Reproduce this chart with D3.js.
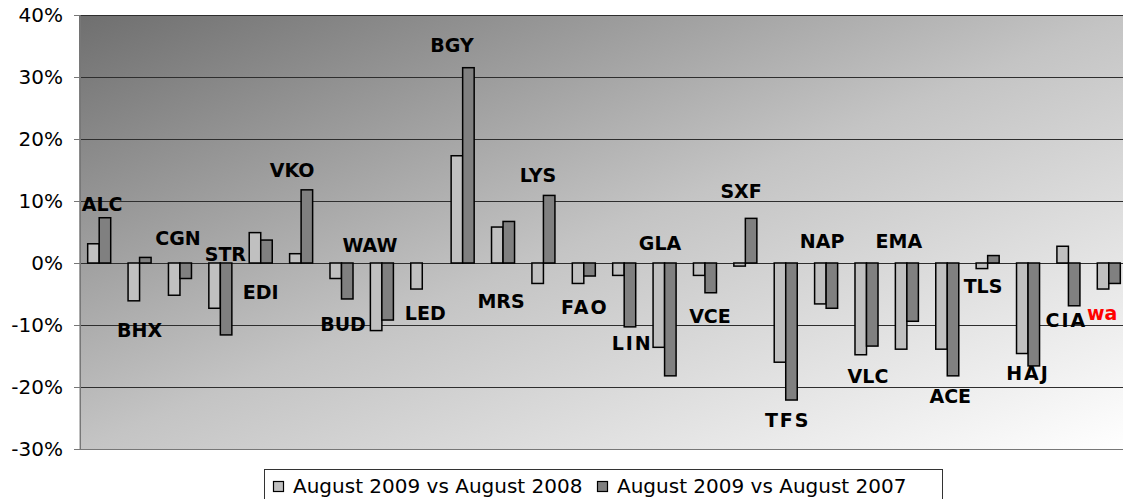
<!DOCTYPE html>
<html>
<head>
<meta charset="utf-8">
<script src="https://cdn.jsdelivr.net/npm/d3@7"></script>
<style>
body { margin: 0; background: #fff; overflow: hidden; }
text { font-family: "DejaVu Sans", Verdana, sans-serif; }
.tick text { font-size: 20px; fill: #000; }
.code { font-size: 19px; font-weight: bold; fill: #000; }
.legendText { font-size: 20px; fill: #000; }
</style>
</head>
<body>
<script>

var airports = ['ALC', 'BHX', 'CGN', 'STR', 'EDI', 'VKO', 'BUD', 'WAW', 'LED', 'BGY', 'MRS', 'LYS', 'FAO',
	'LIN', 'GLA', 'VCE', 'SXF', 'TFS', 'NAP', 'VLC', 'EMA', 'ACE', 'TLS', 'HAJ', 'CIA', 'wa'];
var vs2008 = [3.1, -6.1, -5.2, -7.3, 4.9, 1.5, -2.5, -10.9, -4.2, 17.3, 5.8, -3.3, -3.3,
	-2.0, -13.6, -2.0, -0.5, -16.0, -6.6, -14.8, -13.9, -13.9, -0.9, -14.6, 2.7, -4.2];
var vs2007 = [7.3, 0.9, -2.5, -11.6, 3.7, 11.8, -5.8, -9.2, null, 31.5, 6.7, 10.9, -2.1,
	-10.3, -18.2, -4.8, 7.2, -22.1, -7.3, -13.4, -9.4, -18.2, 1.2, -16.6, -6.9, -3.3];
var yTicks = [-30, -20, -10, 0, 10, 20, 30, 40];
var seriesNames = ['August 2009 vs August 2008', 'August 2009 vs August 2007'];

// where each code label sits: [pixels from group centre, value on the % axis]
var labelAt = [[3, 8.4], [0, -11.9], [-2, 2.9], [5, 0.3], [0, -5.8], [-9, 13.9], [1.5, -11.0], [-12, 1.8],
	[3, -9.2], [-10.6, 34.0], [-2, -7.3], [-5.4, 13.1], [1, -8.2], [8, -14.0], [-4.5, 2.1], [5, -9.7],
	[-4.3, 10.5], [2, -26.5], [-4, 2.4], [1.5, -19.4], [-8, 2.4], [3, -22.6], [-4.6, -4.8], [0, -18.9],
	[-2, -10.3], [-6.7, -9.2]];
var spaced = ['FAO', 'LIN', 'TFS', 'HAJ', 'CIA'];					//labels drawn with wider letters

var w = 1123,
	h = 499,
	plotL = 79,
	plotR = 1129,												//plot runs past the window edge
	plotT = 15,
	plotB = 449;

var svg = d3.select("body").append("svg")
	.attr("width", w)
	.attr("height", h);

var grad = svg.append("defs").append("linearGradient")			//dark top-left to white bottom-right
	.attr("id", "bg")
	.attr("x1", 0).attr("y1", 0).attr("x2", 1).attr("y2", 1);
grad.append("stop").attr("offset", "0%").attr("stop-color", "#6f6f6f");
grad.append("stop").attr("offset", "50%").attr("stop-color", "#c4c4c4");
grad.append("stop").attr("offset", "100%").attr("stop-color", "#ffffff");

var x = d3.scaleBand()
	.domain(airports)
	.range([plotL, plotR])
	.paddingInner(0.43)
	.paddingOuter(0.215);

var x1 = d3.scaleBand()
	.domain([0, 1])
	.range([0, x.bandwidth()]);

var y = d3.scaleLinear()
	.domain([-30, 40])
	.range([plotB, plotT]);

svg.append("rect")												//plot background
	.attr("x", plotL)
	.attr("y", plotT)
	.attr("width", plotR - plotL)
	.attr("height", plotB - plotT)
	.attr("fill", "url(#bg)");

svg.selectAll("line.grid")
		.data(yTicks.filter(function(d){ return d > -30; }))
	.enter().append("line")
		.attr("class", "grid")
		.attr("x1", plotL)
		.attr("x2", plotR)
		.attr("y1", function(d){ return y(d) + 0.5; })
		.attr("y2", function(d){ return y(d) + 0.5; })
		.attr("stroke", "#2e2e2e")
		.attr("stroke-width", 1);

svg.append("line")												//bottom edge of plot
	.attr("x1", plotL).attr("x2", plotR)
	.attr("y1", plotB + 0.5).attr("y2", plotB + 0.5)
	.attr("stroke", "#777");

var yAxis = svg.append("g")
	.attr("transform", "translate(" + (plotL + 1) + ",0)")
	.call(d3.axisLeft(y).tickValues(yTicks).tickSize(6).tickPadding(11)
		.tickFormat(function(d){ return d + "%"; }));
yAxis.select(".domain").attr("stroke", "#777");
yAxis.selectAll(".tick line").attr("stroke", "#777");
yAxis.attr("font-family", null).attr("font-size", null);

var rows = airports.map(function(a, i){ return {code: a, vals: [vs2008[i], vs2007[i]], i: i}; });
var colors = ['#c0c0c0', '#808080'];

var groups = svg.selectAll("g.group")
		.data(rows)
	.enter().append("g")
		.attr("class", "group")
		.attr("transform", function(d){ return "translate(" + x(d.code) + ",0)"; });

groups.selectAll("rect")
		.data(function(d){ return d.vals.map(function(v, k){ return {v: v, k: k}; }).filter(function(e){ return e.v !== null; }); })
	.enter().append("rect")
		.attr("x", function(d){ return x1(d.k); })
		.attr("y", function(d){ return y(Math.max(0, d.v)); })
		.attr("width", x1.bandwidth())
		.attr("height", function(d){ return Math.abs(y(d.v) - y(0)); })
		.attr("fill", function(d){ return colors[d.k]; })
		.attr("stroke", "#000")
		.attr("stroke-width", 1.5);

svg.selectAll("text.code")
		.data(rows)
	.enter().append("text")
		.attr("class", "code")
		.attr("x", function(d){ return x(d.code) + x.bandwidth() / 2 + labelAt[d.i][0]; })
		.attr("y", function(d){ return y(labelAt[d.i][1]); })
		.attr("text-anchor", "middle")
		.attr("letter-spacing", function(d){ return spaced.indexOf(d.code) >= 0 ? 2 : 0; })
		.style("fill", function(d){ return d.code == 'wa' ? '#ff0000' : '#000'; })
		.text(function(d){ return d.code; });

var legend = svg.append("g");
legend.append("rect")
	.attr("x", 264.5).attr("y", 469.5)
	.attr("width", 678).attr("height", 34)
	.attr("fill", "#fff")
	.attr("stroke", "#333");

var legendX = [273, 597];										//where each swatch starts
legend.selectAll("rect.sw")
		.data(seriesNames)
	.enter().append("rect")
		.attr("class", "sw")
		.attr("x", function(d, i){ return legendX[i] + 0.5; })
		.attr("y", 481.5)
		.attr("width", 10)
		.attr("height", 10)
		.attr("fill", function(d, i){ return colors[i]; })
		.attr("stroke", "#000")
		.attr("stroke-width", 1.2);

legend.selectAll("text")
		.data(seriesNames)
	.enter().append("text")
		.attr("class", "legendText")
		.attr("x", function(d, i){ return legendX[i] + 20; })
		.attr("y", 493)
		.text(function(d){ return d; });

</script>
</body>
</html>
